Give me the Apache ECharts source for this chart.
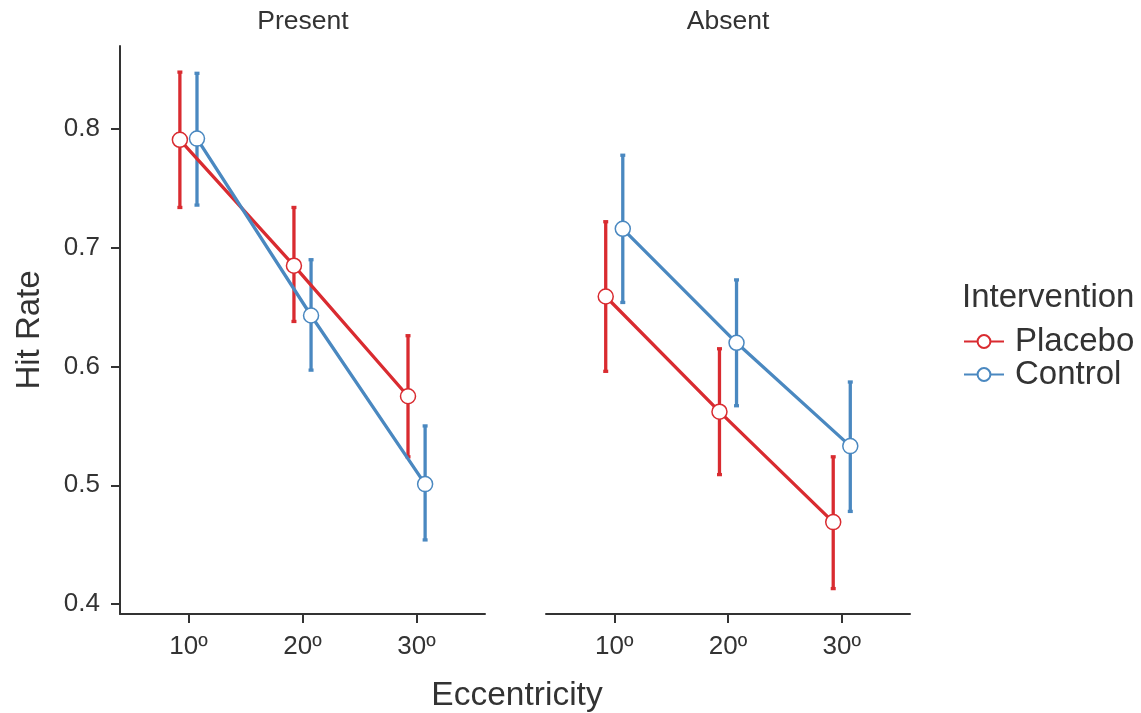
<!DOCTYPE html>
<html>
<head>
<meta charset="utf-8">
<script src="https://cdn.jsdelivr.net/npm/echarts@6/dist/echarts.min.js"></script>
<style>
  html, body { margin: 0; padding: 0; background: #fff; }
  #main { width: 1141px; height: 713px; }
</style>
</head>
<body>
<div id="main"></div>
<script>
// 数据
var categories = ['10º', '20º', '30º'];
var yTicks = [0.4, 0.5, 0.6, 0.7, 0.8];

var presentPlacebo     = [0.791, 0.685, 0.575];
var presentPlaceboLow  = [0.734, 0.638, 0.524];
var presentPlaceboHigh = [0.848, 0.734, 0.626];
var presentControl     = [0.792, 0.643, 0.501];
var presentControlLow  = [0.736, 0.597, 0.454];
var presentControlHigh = [0.847, 0.690, 0.550];

var absentPlacebo     = [0.659, 0.562, 0.469];
var absentPlaceboLow  = [0.596, 0.509, 0.413];
var absentPlaceboHigh = [0.722, 0.615, 0.524];
var absentControl     = [0.716, 0.620, 0.533];
var absentControlLow  = [0.654, 0.567, 0.478];
var absentControlHigh = [0.778, 0.673, 0.587];

var red = '#D92B30';
var blue = '#4A88C0';
var txt = '#333333';
var font = 'Liberation Sans, Arial, sans-serif';
var dodge = 0.075;

// 点位置: 类别序号 + 偏移
function points(vals, off) {
  return vals.map(function (v, i) { return [i + 1 + off, v]; });
}
function bars(lo, hi, off) {
  return lo.map(function (v, i) { return [i + 1 + off, v, hi[i]]; });
}

function renderErr(params, api) {
  var x = api.value(0);
  var p1 = api.coord([x, api.value(1)]);
  var p2 = api.coord([x, api.value(2)]);
  var w = 2.5;
  var style = { stroke: api.visual('color'), lineWidth: 3.3 };
  return {
    type: 'group',
    children: [
      { type: 'line', shape: { x1: p1[0], y1: p1[1], x2: p2[0], y2: p2[1] }, style: style },
      { type: 'line', shape: { x1: p1[0] - w, y1: p1[1], x2: p1[0] + w, y2: p1[1] }, style: style },
      { type: 'line', shape: { x1: p2[0] - w, y1: p2[1], x2: p2[0] + w, y2: p2[1] }, style: style }
    ]
  };
}

function xAxisOf(idx) {
  return {
    gridIndex: idx,
    type: 'value',
    min: 0.4,
    max: 3.6,
    axisLine: { show: true, lineStyle: { color: txt, width: 2 } },
    axisTick: { show: true, length: 9, customValues: [1, 2, 3], lineStyle: { color: txt, width: 2 } },
    axisLabel: {
      customValues: [1, 2, 3],
      margin: 20,
      color: txt,
      fontSize: 26,
      fontFamily: font,
      formatter: function (v) { return categories[Math.round(v) - 1]; }
    },
    splitLine: { show: false }
  };
}

function lineSeries(name, data, color, idx) {
  return {
    name: name,
    type: 'line',
    xAxisIndex: idx,
    yAxisIndex: idx,
    data: data,
    z: 3,
    symbol: 'circle',
    symbolSize: 15,
    color: color,
    lineStyle: { color: color, width: 3.3 },
    itemStyle: { color: '#fff', borderColor: color, borderWidth: 1.5 },
    animation: false
  };
}

function errSeries(data, color, idx) {
  return {
    type: 'custom',
    xAxisIndex: idx,
    yAxisIndex: idx,
    data: data,
    z: 2,
    itemStyle: { color: color },
    encode: { x: 0, y: [1, 2] },
    renderItem: renderErr,
    animation: false
  };
}

var chartDom = document.getElementById('main');
var myChart = echarts.init(chartDom);
var option = {
  backgroundColor: '#fff',
  textStyle: { fontFamily: font },
  grid: [
    { left: 120, top: 46, width: 365, height: 568 },
    { left: 546, top: 46, width: 364, height: 568 }
  ],
  xAxis: [xAxisOf(0), xAxisOf(1)],
  yAxis: [
    {
      gridIndex: 0,
      type: 'value',
      min: 0.3916,
      max: 0.870,
      name: 'Hit Rate',
      nameLocation: 'middle',
      nameGap: 74,
      nameTextStyle: { color: txt, fontSize: 33, fontFamily: font },
      axisLine: { show: true, lineStyle: { color: txt, width: 2 } },
      axisTick: { show: true, length: 9, customValues: yTicks, lineStyle: { color: txt, width: 2 } },
      axisLabel: {
        customValues: yTicks,
        margin: 20,
        color: txt,
        fontSize: 26,
        fontFamily: font,
        formatter: function (v) { return v.toFixed(1); }
      },
      splitLine: { show: false }
    },
    {
      gridIndex: 1,
      type: 'value',
      min: 0.3916,
      max: 0.870,
      show: false,
      splitLine: { show: false }
    }
  ],
  legend: {
    data: ['Placebo', 'Control'],
    orient: 'vertical',
    left: 963,
    top: 325,
    padding: 0,
    itemWidth: 40,
    itemHeight: 16,
    itemGap: 0,
    textStyle: { color: txt, fontSize: 33, fontFamily: font, padding: [0, 0, 0, 6] }
  },
  graphic: [
    { type: 'text', x: 962, y: 298, style: { text: 'Intervention', fill: txt, fontSize: 33, verticalAlign: 'middle', fontFamily: font } },
    { type: 'text', x: 303, y: 22, style: { text: 'Present', fill: txt, fontSize: 26.5, align: 'center', verticalAlign: 'middle', fontFamily: font } },
    { type: 'text', x: 728, y: 22, style: { text: 'Absent', fill: txt, fontSize: 26.5, align: 'center', verticalAlign: 'middle', fontFamily: font } },
    { type: 'text', x: 517, y: 696, style: { text: 'Eccentricity', fill: txt, fontSize: 33.5, align: 'center', verticalAlign: 'middle', fontFamily: font } }
  ],
  series: [
    errSeries(bars(presentPlaceboLow, presentPlaceboHigh, -dodge), red, 0),
    errSeries(bars(presentControlLow, presentControlHigh, dodge), blue, 0),
    lineSeries('Placebo', points(presentPlacebo, -dodge), red, 0),
    lineSeries('Control', points(presentControl, dodge), blue, 0),
    errSeries(bars(absentPlaceboLow, absentPlaceboHigh, -dodge), red, 1),
    errSeries(bars(absentControlLow, absentControlHigh, dodge), blue, 1),
    lineSeries('Placebo', points(absentPlacebo, -dodge), red, 1),
    lineSeries('Control', points(absentControl, dodge), blue, 1)
  ]
};

option && myChart.setOption(option);
</script>
</body>
</html>
